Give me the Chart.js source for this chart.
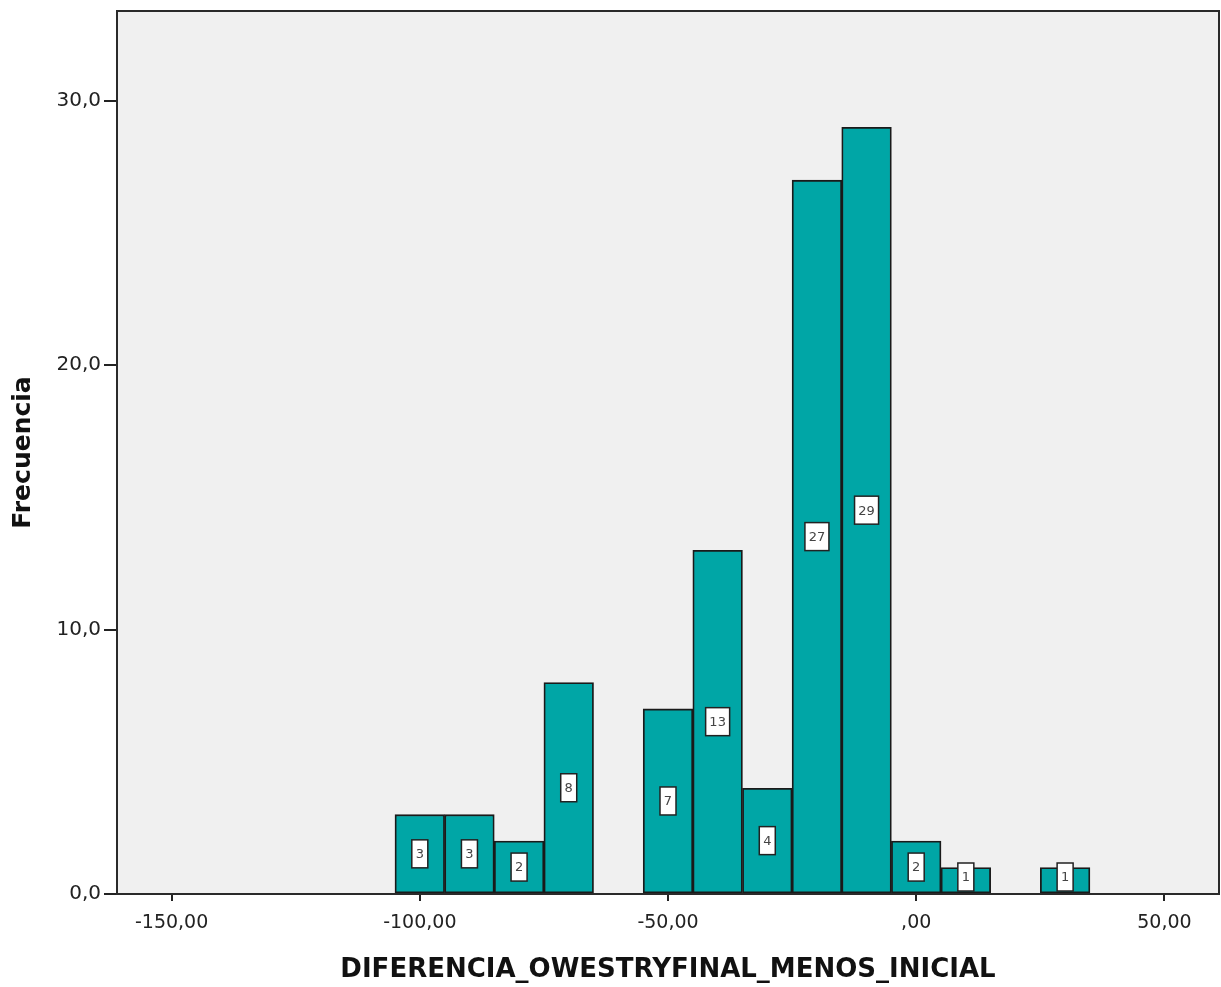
<!DOCTYPE html>
<html>
<head>
<meta charset="utf-8">
<script src="https://cdn.jsdelivr.net/npm/chart.js@4.4.0/dist/chart.umd.min.js"></script>
<style>
  html, body { margin: 0; padding: 0; background: #fff; }
  #wrap { width: 1221px; height: 987px; }
</style>
</head>
<body>
<div id="wrap"><canvas id="hist"></canvas></div>
<script>
// bins are 10 wide, centred on these values
const binCenters = [-100, -90, -80, -70, -60, -50, -40, -30, -20, -10, 0, 10, 20, 30];
const frequencies = [3, 3, 2, 8, 0, 7, 13, 4, 27, 29, 2, 1, 0, 1];
const xTicks = [-150, -100, -50, 0, 50];
const yTicks = [0, 10, 20, 30];

const fmtX = v => v.toFixed(2).replace('.', ',').replace(/^0,/, ',');
const fmtY = v => v.toFixed(1).replace('.', ',');

// grey plot background and frame
const plotFrame = {
  id: 'plotFrame',
  beforeDraw(chart) {
    const { ctx, chartArea: a } = chart;
    ctx.save();
    ctx.fillStyle = '#f0f0f0';
    ctx.fillRect(a.left, a.top, a.right - a.left, a.bottom - a.top);
    ctx.restore();
  },
  afterDraw(chart) {
    const { ctx, chartArea: a } = chart;
    ctx.save();
    ctx.strokeStyle = '#2a2a2a';
    ctx.lineWidth = 2;
    ctx.strokeRect(a.left, a.top, a.right - a.left, a.bottom - a.top);
    ctx.restore();
  }
};

// white count boxes in the middle of each bar
const countBoxes = {
  id: 'countBoxes',
  afterDatasetsDraw(chart) {
    const { ctx } = chart;
    const meta = chart.getDatasetMeta(0);
    ctx.save();
    ctx.font = '13px "DejaVu Sans"';
    ctx.textAlign = 'center';
    ctx.textBaseline = 'middle';
    meta.data.forEach((bar, i) => {
      const raw = chart.data.datasets[0].data[i];
      if (!raw || raw.y == null) return;
      const txt = String(raw.y);
      const w = txt.length > 1 ? 24 : 16;
      const h = 28;
      const cx = bar.x;
      const cy = Math.min((bar.y + bar.base) / 2, bar.base - 16);
      ctx.fillStyle = '#ffffff';
      ctx.fillRect(cx - w / 2, cy - h / 2, w, h);
      ctx.strokeStyle = '#222';
      ctx.lineWidth = 1.5;
      ctx.strokeRect(cx - w / 2, cy - h / 2, w, h);
      ctx.fillStyle = '#444';
      ctx.fillText(txt, cx, cy + 1);
    });
    ctx.restore();
  }
};

new Chart(document.getElementById('hist'), {
  type: 'bar',
  data: {
    datasets: [{
      data: binCenters.map((x, i) => ({ x: x, y: frequencies[i] > 0 ? frequencies[i] : null })),
      backgroundColor: '#00a6a6',
      borderColor: '#1a1a1a',
      borderWidth: 1.8,
      borderSkipped: false,
      barPercentage: 1,
      categoryPercentage: 1
    }]
  },
  options: {
    responsive: true,
    maintainAspectRatio: false,
    animation: false,
    layout: { padding: { top: 11, right: 2, left: 0, bottom: 0 } },
    plugins: { legend: { display: false }, tooltip: { enabled: false } },
    scales: {
      x: {
        type: 'linear',
        offset: false,
        min: -161,
        max: 61,
        afterBuildTicks: s => { s.ticks = xTicks.map(v => ({ value: v })); },
        afterFit: s => { s.height = 93; s.paddingLeft = 0; s.paddingRight = 0; },
        grid: { offset: false, drawOnChartArea: false, drawTicks: true, tickLength: 7, color: '#222', lineWidth: 2 },
        border: { display: true, color: '#2a2a2a', width: 2 },
        ticks: {
          color: '#222',
          padding: 11,
          font: { family: 'DejaVu Sans', size: 19 },
          callback: v => fmtX(v)
        },
        title: {
          display: true,
          text: 'DIFERENCIA_OWESTRYFINAL_MENOS_INICIAL',
          color: '#111',
          font: { family: 'DejaVu Sans', size: 26, weight: 'bold' },
          padding: { top: 0, bottom: 1 }
        }
      },
      y: {
        min: 0,
        max: 33.4,
        afterBuildTicks: s => { s.ticks = yTicks.map(v => ({ value: v })); },
        afterFit: s => { s.width = 117; s.paddingTop = 0; s.paddingBottom = 0; },
        grid: { drawOnChartArea: false, drawTicks: true, tickLength: 13, color: '#222', lineWidth: 2 },
        border: { display: true, color: '#2a2a2a', width: 2 },
        ticks: {
          color: '#222',
          padding: 3,
          font: { family: 'DejaVu Sans', size: 20 },
          callback: v => fmtY(v)
        },
        title: {
          display: true,
          text: 'Frecuencia',
          color: '#111',
          font: { family: 'DejaVu Sans', size: 25, weight: 'bold' },
          padding: { top: 8, bottom: 0 }
        }
      }
    }
  },
  plugins: [plotFrame, countBoxes]
});
</script>
</body>
</html>
